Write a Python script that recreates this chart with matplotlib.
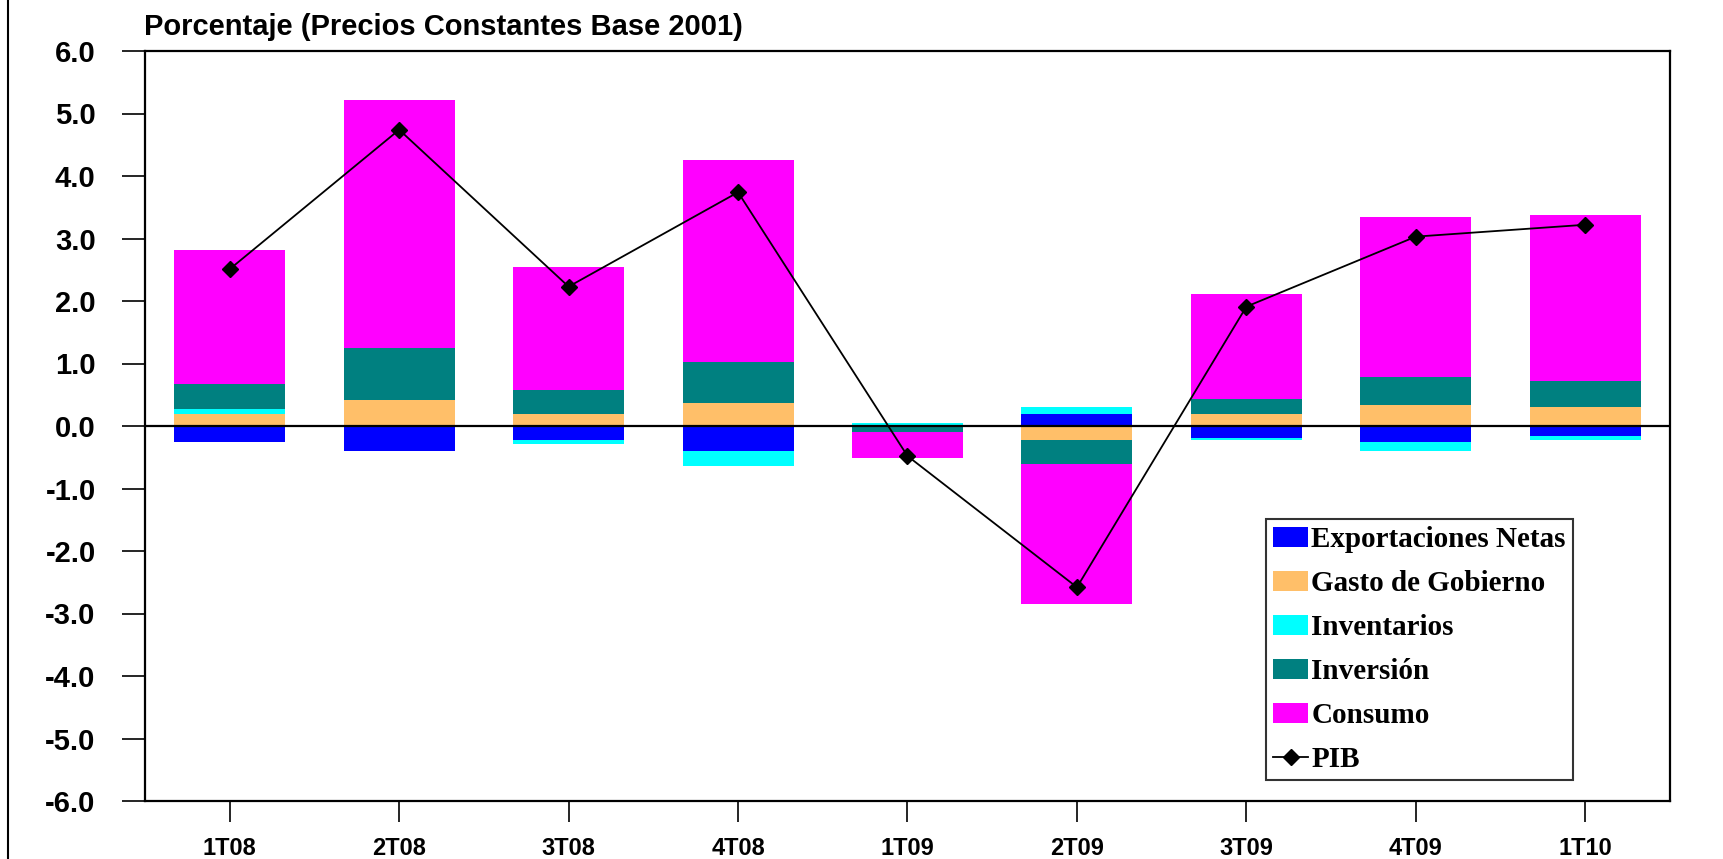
import numpy as np
import matplotlib.pyplot as plt
from matplotlib.lines import Line2D

plt.rcParams['axes.unicode_minus'] = False

# quarters
cats = ['1T08', '2T08', '3T08', '4T08', '1T09', '2T09', '3T09', '4T09', '1T10']

# contributions (percentage points)
expo = [-0.26, -0.40, -0.22, -0.40, 0.0, 0.20, -0.19, -0.26, -0.155]
gasto = [0.19, 0.41, 0.19, 0.37, 0.0, -0.22, 0.19, 0.33, 0.30]
inventarios = [0.075, 0.0, -0.07, -0.245, 0.05, 0.10, -0.03, -0.14, -0.065]
inversion = [0.41, 0.84, 0.385, 0.66, -0.09, -0.385, 0.245, 0.46, 0.42]
consumo = [2.14, 3.97, 1.97, 3.23, -0.42, -2.24, 1.68, 2.56, 2.66]
pib = [2.51, 4.74, 2.23, 3.74, -0.48, -2.58, 1.91, 3.03, 3.22]

series = [
    ('Exportaciones Netas', expo, '#0000FF'),
    ('Gasto de Gobierno', gasto, '#FFBF69'),
    ('Inventarios', inventarios, '#00FFFF'),
    ('Inversión', inversion, '#008080'),
    ('Consumo', consumo, '#FF00FF'),
]

fig = plt.figure(figsize=(17.24, 8.59), dpi=100)
ax = fig.add_axes([145 / 1724, 1 - 801 / 859, (1670 - 145) / 1724, (801 - 51) / 859])

x = np.arange(len(cats))
pos_base = np.zeros(len(cats))
neg_base = np.zeros(len(cats))
handles = []
for name, vals, col in series:
    v = np.array(vals)
    bottom = np.where(v >= 0, pos_base, neg_base)
    h = ax.bar(x, v, width=0.655, bottom=bottom, color=col, label=name, linewidth=0)
    handles.append(h)
    pos_base = pos_base + np.where(v >= 0, v, 0)
    neg_base = neg_base + np.where(v < 0, v, 0)

line, = ax.plot(x, pib, color='black', lw=1.3, marker='D', markersize=8, label='PIB')
handles.append(line)
ax.axhline(0, color='black', lw=1.6)

ax.set_xlim(-0.5, len(cats) - 0.5)
ax.set_ylim(-6, 6)
ax.set_yticks(np.arange(-6, 7, 1))
ax.set_yticklabels(['%.1f' % v for v in np.arange(-6, 7, 1)],
                   fontsize=21, fontweight='bold', family='Liberation Sans')
ax.set_xticks(x)
ax.set_xticklabels(cats, fontsize=17, fontweight='bold', family='Liberation Sans')
ax.tick_params(axis='y', direction='out', length=16.5, width=1.2, pad=19)
ax.tick_params(axis='x', direction='out', length=15, width=1.2, pad=11)
for s in ax.spines.values():
    s.set_linewidth(1.6)
    s.set_color('black')

leg = ax.legend(handles=handles, labels=[h.get_label() for h in handles],
                loc='upper left', bbox_to_anchor=((1266 - 145) / 1525, (801 - 519) / 750),
                prop={'family': 'Liberation Serif', 'weight': 'bold', 'size': 21},
                frameon=True, fancybox=False, edgecolor='black', borderpad=0.25,
                labelspacing=0.58, handlelength=1.2, handletextpad=0.1,
                handleheight=0.7, borderaxespad=0)
leg.get_frame().set_linewidth(1.5)

fig.text(144 / 1724, 1 - 27 / 859, 'Porcentaje (Precios Constantes Base 2001)',
         fontsize=21, fontweight='bold', family='Liberation Sans', va='center', ha='left')

fig.add_artist(Line2D([8 / 1724, 8 / 1724], [0, 1], color='black', lw=1.5))

fig.savefig('out.png', dpi=100)
